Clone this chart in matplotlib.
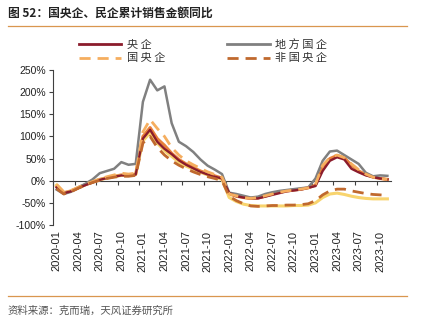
import matplotlib
matplotlib.use("Agg")
import matplotlib.pyplot as plt
from matplotlib.lines import Line2D
import numpy as np

plt.rcParams['font.family'] = ['Liberation Sans', 'Noto Sans CJK SC', 'DejaVu Sans']

# months 2020-01 .. 2023-11
months = [f'{y}-{m:02d}' for y in range(2020, 2024) for m in range(1, 13)][:47]

yangqi = [-15, -28, -24, -17, -10, -4, 2, 6, 9, 12, 12, 14,
          95, 115, 88, 72, 60, 46, 36, 28, 20, 14, 9, 5,
          -28, -35, -38, -40, -40, -36, -32, -28, -24, -22, -20, -16,
          -12, 22, 45, 53, 48, 27, 19, 12, 8, 5, 3]

difang = [-20, -30, -25, -15, -7, 3, 17, 22, 27, 42, 36, 38,
          178, 228, 204, 213, 130, 88, 78, 65, 48, 34, 25, 15,
          -27, -30, -34, -38, -36, -30, -26, -23, -21, -19, -17, -15,
          5, 45, 66, 68, 58, 48, 38, 18, 10, 12, 11]

guoyang = [-8, -25, -22, -15, -8, -2, 4, 9, 13, 17, 15, 17,
           110, 138, 118, 100, 75, 58, 45, 36, 28, 20, 14, 8,
           -30, -34, -38, -40, -38, -34, -30, -26, -23, -21, -19, -16,
           -8, 35, 52, 58, 52, 38, 25, 15, 8, 5, 3]

# unlabelled solid lines drawn under the dashed ones
orange_solid = [-12, -27, -23, -16, -9, -3, 3, 7, 10, 13, 12, 15,
                100, 120, 95, 80, 62, 48, 38, 30, 22, 16, 11, 6,
                -30, -35, -38, -40, -39, -35, -30, -26, -23, -21, -19, -16,
                -10, 30, 50, 57, 52, 35, 22, 14, 8, 5, 3]

yellow_solid = [-10, -28, -24, -16, -9, -3, 2, 6, 9, 12, 12, 14,
                90, 108, 85, 68, 55, 42, 33, 26, 19, 13, 8, 3,
                -38, -47, -53, -56, -57, -57, -57, -57, -57, -56, -56, -55,
                -50, -38, -30, -28, -31, -35, -38, -40, -41, -41, -41]

feiguoyang = [-18, -30, -25, -17, -10, -4, 1, 5, 8, 10, 10, 12,
              85, 100, 75, 58, 45, 35, 27, 20, 14, 9, 5, 0,
              -35, -45, -52, -57, -58, -57, -56, -56, -55, -55, -54, -52,
              -45, -32, -23, -19, -19, -23, -26, -29, -31, -32, -33]

x = np.arange(len(months))

fig = plt.figure(figsize=(4.26, 3.24), dpi=100)
ax = fig.add_axes([53/426, 1-225/324, 338/426, 155/324])

ax.plot(x, difang, color='#808080', lw=1.8, zorder=3)
ax.plot(x, orange_solid, color='#E8803A', lw=2.2, zorder=2)
ax.plot(x, yellow_solid, color='#F8D46E', lw=2.2, zorder=2)
ax.plot(x, yangqi, color='#8B1C2C', lw=1.7, zorder=4)
ax.plot(x, guoyang, color='#F5AE5F', lw=2.0, ls=(0, (4, 2.5)), zorder=5)
ax.plot(x, feiguoyang, color='#C0692E', lw=2.0, ls=(0, (4, 2.5)), zorder=5)

ax.set_xlim(-0.5, 46.5)
ax.set_ylim(-100, 250)
ax.set_yticks(range(-100, 251, 50))
ax.set_yticklabels([f'{v}%' for v in range(-100, 251, 50)])
ax.tick_params(axis='y', labelsize=7.5, length=3, width=0.8, color='#404040', labelcolor='#222222', pad=2)

ax.set_xticks(x[::3])
ax.set_xticklabels(months[::3], rotation=90)
ax.tick_params(axis='x', length=0, labelsize=8, labelcolor='#222222', pad=4)

for s in ['top', 'right', 'bottom']:
    ax.spines[s].set_visible(False)
ax.spines['left'].set_color('#404040')
ax.spines['left'].set_linewidth(0.8)

# zero line with tick marks between categories
zero = ax.secondary_xaxis(100/350)
zero.set_xticks(np.arange(-0.5, 46.6, 3))
zero.set_xticklabels([])
zero.tick_params(length=3, width=0.8, color='#404040')
zero.spines['bottom'].set_color('#404040')
zero.spines['bottom'].set_linewidth(0.8)

handles = [Line2D([], [], color='#8B1C2C', lw=2),
           Line2D([], [], color='#F5AE5F', lw=2, ls=(0, (4, 2.5))),
           Line2D([], [], color='#808080', lw=2),
           Line2D([], [], color='#C0692E', lw=2, ls=(0, (4, 2.5)))]
labels = ['央 企', '国 央 企', '地 方 国 企', '非 国 央 企']
fig.legend(handles, labels, ncol=2, loc='center', bbox_to_anchor=(203/426, 1-51/324),
           frameon=False, handlelength=3.8, columnspacing=5.6,
           labelspacing=0.35, handletextpad=0.5, labelcolor='#333333',
           prop={'family': ['Noto Sans CJK SC'], 'size': 8})

fig.text(8/426, 1-13/324, '图 52：国央企、民企累计销售金额同比', fontsize=8.5, fontweight='bold',
         color='#222222', va='center', family=['Noto Sans CJK SC', 'DejaVu Sans'])
fig.add_artist(Line2D([8/426, 407/426], [1-26/324, 1-26/324], color='#D9964F', lw=0.9))
fig.add_artist(Line2D([8/426, 407/426], [1-296/324, 1-296/324], color='#D9964F', lw=0.9))
fig.text(8/426, 1-311/324, '资料来源：克而瑞，天风证券研究所', fontsize=7.5, color='#555555',
         va='center', family=['Noto Sans CJK SC', 'DejaVu Sans'])

fig.savefig('out.png', dpi=100)
